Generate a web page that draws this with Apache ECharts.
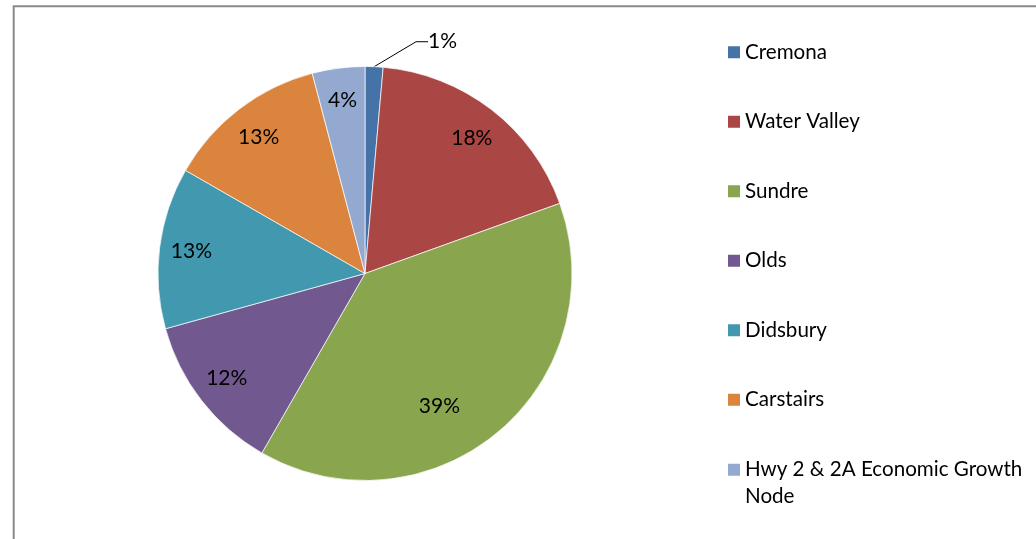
<!DOCTYPE html>
<html>
<head>
<meta charset="utf-8">
<style>
  html, body { margin: 0; padding: 0; background: #ffffff; }
  #chart { width: 1036px; height: 539px; }
</style>
<script src="https://cdn.jsdelivr.net/npm/echarts@6/dist/echarts.min.js"></script>
</head>
<body>
<div id="chart"></div>
<script>
// Share of each community (percent)
const communities = ['Cremona', 'Water Valley', 'Sundre', 'Olds', 'Didsbury', 'Carstairs', 'Hwy 2 & 2A Economic Growth Node'];
const shares = [1.4, 18.1, 38.8, 12.4, 12.6, 12.6, 4.1];
const sliceColors = ['#4572A7', '#AA4643', '#89A54E', '#71588F', '#4198AF', '#DB843D', '#93A9CF'];

const FONT = 'Lato, "Open Sans", sans-serif';
const CX = 365, CY = 273.5, R = 207;

const pieData = communities.map((name, i) => ({
  name: name,
  value: shares[i],
  itemStyle: { color: sliceColors[i] }
}));

// Transparent ring that carries the percentage labels further out than the pie's midpoint
const labelData = communities.map((name, i) => {
  const item = { name: name, value: shares[i] };
  if (i === 0) {
    item.label = { position: 'outside' };
    item.labelLine = { show: true };
  } else if (name === 'Sundre') {
    item.label = { offset: [-38, -1] };
  } else if (name === 'Water Valley' || name === 'Carstairs') {
    item.label = { offset: [0, 3] };
  } else if (name === 'Olds') {
    item.label = { offset: [0, -3] };
  }
  return item;
});

const chart = echarts.init(document.getElementById('chart'), null, { renderer: 'canvas' });

chart.setOption({
  animation: false,
  backgroundColor: '#ffffff',
  graphic: [{
    type: 'rect',
    shape: { x: 13.7, y: 6.3, width: 2000, height: 2000 },
    style: { fill: 'none', stroke: '#8a8a8a', lineWidth: 2 },
    silent: true,
    z: 100
  }],
  legend: [{
    orient: 'vertical',
    left: 728,
    top: 39,
    padding: 0,
    itemWidth: 12,
    itemHeight: 12,
    itemGap: 43,
    icon: 'rect',
    selectedMode: false,
    data: communities.slice(0, 6),
    itemStyle: { borderWidth: 0 },
    textStyle: { fontFamily: FONT, fontSize: 20.6, color: '#000', lineHeight: 26.5 }
  }, {
    orient: 'vertical',
    left: 728,
    top: 430,
    padding: 0,
    itemWidth: 12,
    itemHeight: 12,
    icon: 'rect',
    selectedMode: false,
    data: communities.slice(6),
    itemStyle: { borderWidth: 0 },
    formatter: name => '\n' + name.replace(' Node', '\nNode'),
    textStyle: { fontFamily: FONT, fontSize: 20.6, color: '#000', lineHeight: 26.5 }
  }],
  series: [{
    type: 'pie',
    center: [CX, CY],
    radius: R,
    startAngle: 90,
    clockwise: true,
    silent: true,
    label: { show: false },
    labelLine: { show: false },
    itemStyle: { borderColor: '#ffffff', borderWidth: 0.7 },
    emphasis: { disabled: true },
    data: pieData
  }, {
    type: 'pie',
    center: [CX, CY],
    radius: [137, R],
    startAngle: 90,
    clockwise: true,
    silent: true,
    itemStyle: { color: 'rgba(0,0,0,0)' },
    emphasis: { disabled: true },
    label: {
      show: true,
      position: 'inside',
      color: '#000',
      fontFamily: FONT,
      fontSize: 21,
      formatter: p => Math.round(p.percent) + '%'
    },
    labelLine: {
      show: false,
      length: 22,
      length2: 12,
      lineStyle: { color: '#000', width: 1 }
    },
    labelLayout: function (p) {
      if (p.dataIndex !== 0) return;
      return {
        x: p.labelRect.x + 36,
        y: p.labelRect.y + p.labelRect.height / 2 - 3,
        align: 'left',
        verticalAlign: 'middle'
      };
    },
    data: labelData
  }]
});
</script>
</body>
</html>
